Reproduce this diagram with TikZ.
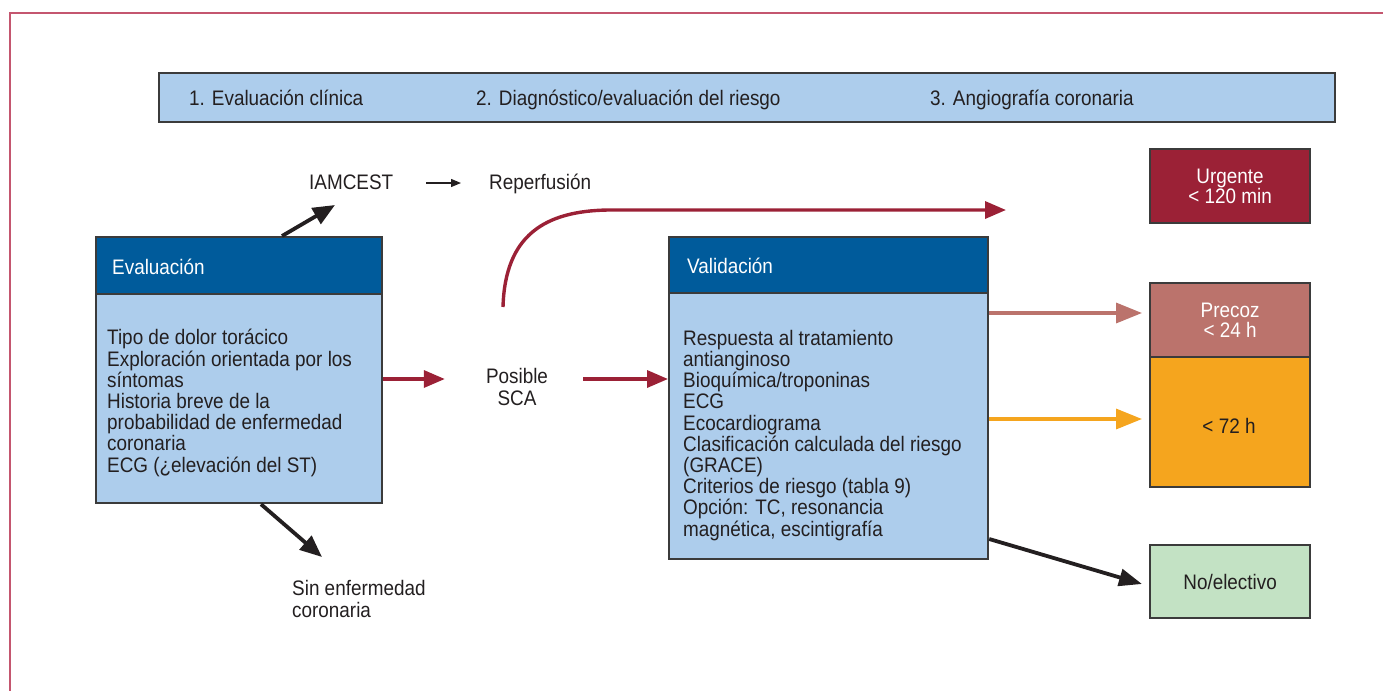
\documentclass[tikz,border=0pt]{standalone}
\usepackage{fontspec}
\setmainfont[FakeStretch=0.9]{Liberation Sans}
\usetikzlibrary{arrows.meta}
\definecolor{ink}{HTML}{231F20}
\definecolor{lblue}{HTML}{ADCDEC}
\definecolor{dblue}{HTML}{005B9B}
\definecolor{wine}{HTML}{9B2136}
\definecolor{rose}{HTML}{BB736C}
\definecolor{amber}{HTML}{F5A51E}
\definecolor{mint}{HTML}{C3E2C4}
\definecolor{frame}{HTML}{C4566F}
\definecolor{edge}{HTML}{3B3B3B}
\begin{document}
\begin{tikzpicture}[x=1pt,y=-1pt,
  font=\fontsize{21}{21.2}\selectfont, text=ink,
  lbl/.style={inner sep=0pt, anchor=base west, align=left},
  box/.style={draw=edge, line width=2.2pt, anchor=north west, inner sep=0pt},
  hdr/.style={box, fill=dblue},
  body/.style={box, fill=lblue},
  res/.style={box, text=white, align=center},
  redarrow/.style={draw=wine, line width=3.4pt, -{Triangle[length=21pt,width=17pt]}},
  blkarrow/.style={draw=ink, line width=3.8pt, -{Triangle[length=22pt,width=18pt]}},
  wideh/.style={line width=3.4pt, -{Triangle[length=26pt,width=20pt]}}
]
\useasboundingbox (0,0) rectangle (1383,691);
% outer frame
\draw[frame, line width=2pt] (1383,13) -- (10,13) -- (10,691);

% top bar
\node[body, minimum width=1176, minimum height=49] (bar) at (158,72) {};
\node[lbl] (s1) at (189,105) {1. Evaluación clínica};
\node[lbl] (s2) at (476,105) {2. Diagnóstico/evaluación del riesgo};
\node[lbl] (s3) at (930,105) {3. Angiografía coronaria};

% Evaluación box
\node[body, minimum width=286, minimum height=209] (evb) at (95,293) {};
\node[hdr, minimum width=286, minimum height=57] (evh) at (95,236) {};
\node[lbl, text=white] (evt) at (112,274) {Evaluación};
\node[lbl] (evx) at (107,472) {Tipo de dolor torácico\\Exploración orientada por los\\síntomas\\Historia breve de la\\probabilidad de enfermedad\\coronaria\\ECG (¿elevación del ST)};

% Validación box
\node[body, minimum width=319, minimum height=266] (vab) at (668,292) {};
\node[hdr, minimum width=319, minimum height=56] (vah) at (668,236) {};
\node[lbl, text=white] (vat) at (687,273) {Validación};
\node[lbl] (vax) at (683,536) {Respuesta al tratamiento\\antianginoso\\Bioquímica/troponinas\\ECG\\Ecocardiograma\\Clasificación calculada del riesgo\\(GRACE)\\Criterios de riesgo (tabla 9)\\Opción: TC, resonancia\\magnética, escintigrafía};

% labels
\node[lbl] (iam) at (309,189) {IAMCEST};
\node[lbl] (rep) at (489,189) {Reperfusión};
\node[inner sep=0pt, align=center, anchor=base] (sca) at (517,405) {Posible\\SCA};
\node[lbl] (sin) at (292,617) {Sin enfermedad\\coronaria};

% result boxes
\node[res, fill=wine, minimum width=160, minimum height=74] (urg) at (1149,148) {Urgente\\[-1pt]< 120 min};
\node[res, fill=rose, minimum width=160, minimum height=74] (pre) at (1149,282) {Precoz\\[-1pt]< 24 h};
\node[box, fill=amber, minimum width=160, minimum height=130] (h72) at (1149,356) {};
\node[inner sep=0pt, anchor=base] (h72t) at (1229,433) {< 72 h};
\node[box, fill=mint, minimum width=160, minimum height=73] (nel) at (1149,544) {No/electivo};

% connectors
\coordinate (iamtip) at (335,205);
\draw[blkarrow] (evh.north west) ++(187,0) coordinate (iamst) -- (iamtip);
\draw[ink, line width=1.3pt, -{Triangle[length=10pt,width=8pt]}] ([xshift=33pt,yshift=6pt]iam.base east) -- ([xshift=-28pt,yshift=6pt]rep.base west);
\coordinate (sintip) at (322,557);
\draw[blkarrow] (evb.south west) ++(166,0) -- (sintip);
\draw[redarrow] (evb.east |- 0,379) -- ([xshift=-41pt]sca.base west |- 0,379);
\draw[redarrow] ([xshift=35pt]sca.base east |- 0,379) -- (vab.west |- 0,379);
\coordinate (cst) at (503,307);
\coordinate (cend) at (1006,210);
\draw[redarrow] (cst) .. controls (505,235) and (545,211) .. (608,210) -- (cend);
\draw[wideh, draw=rose] (vab.east |- 0,313) -- ([xshift=-7pt]pre.west |- 0,313);
\draw[wideh, draw=amber] (vab.east |- 0,419) -- ([xshift=-7pt]h72.west |- 0,419);
\draw[draw=ink, line width=3.8pt, -{Triangle[length=23pt,width=17pt]}] (vab.east |- 0,539) -- ([xshift=-7pt]nel.west |- 0,584);
\end{tikzpicture}
\end{document}
